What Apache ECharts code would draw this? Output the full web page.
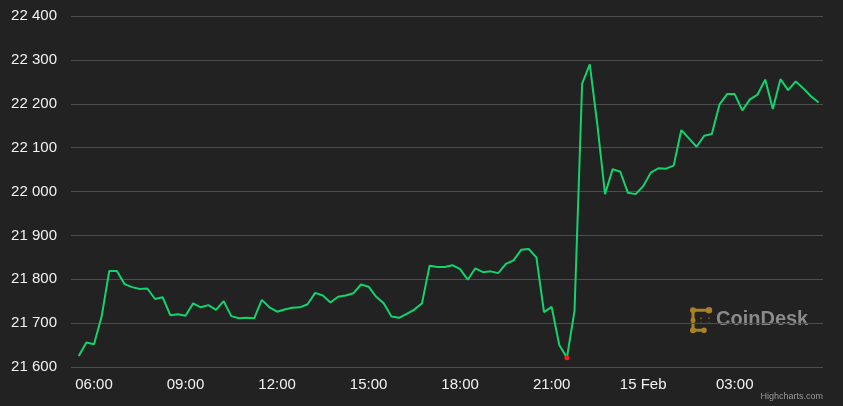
<!DOCTYPE html>
<html>
<head>
<meta charset="utf-8">
<script src="https://cdn.jsdelivr.net/npm/echarts@6/dist/echarts.min.js"></script>
<style>
html,body{margin:0;padding:0;background:#222222;}
#c{width:843px;height:406px;}
</style>
</head>
<body>
<div id="c"></div>
<script>
// BTC price, 15-minute steps, starting 05:30 (hours since 14 Feb 00:00)
const startHour = 5.5;
const stepHours = 0.25;
const prices = [
  21625, 21656, 21652, 21715, 21819, 21819, 21789, 21782, 21778, 21779,
  21755, 21759, 21718, 21720, 21717, 21745, 21736, 21741, 21730, 21750,
  21716, 21711, 21712, 21711, 21753, 21736, 21726, 21731, 21735, 21736,
  21743, 21769, 21763, 21747, 21760, 21763, 21768, 21788, 21783, 21760,
  21745, 21715, 21712, 21721, 21731, 21745, 21831, 21828, 21828, 21832,
  21823, 21799, 21825, 21816, 21818, 21814, 21835, 21843, 21867, 21869,
  21850, 21725, 21737, 21650, 21621, 21728, 22246, 22290, 22151, 21994,
  22051, 22045, 21997, 21994, 22012, 22043, 22053, 22052, 22059, 22140,
  22121, 22102, 22127, 22131, 22198, 22222, 22222, 22185, 22210, 22221,
  22255, 22188, 22256, 22231, 22251, 22235, 22217, 22203
];
const xTickHours = [6, 9, 12, 15, 18, 21, 24, 27];
const xTickLabels = ['06:00', '09:00', '12:00', '15:00', '18:00', '21:00', '15 Feb', '03:00'];
const yTicks = [21600, 21700, 21800, 21900, 22000, 22100, 22200, 22300, 22400];

const minPrice = Math.min(...prices);
const seriesData = prices.map((p, i) => {
  const item = { value: [startHour + i * stepHours, p] };
  if (p === minPrice) {
    item.symbol = 'circle';
    item.symbolSize = 5;
    item.itemStyle = { color: '#ff1a1a' };
  }
  return item;
});

const chart = echarts.init(document.getElementById('c'), null, { renderer: 'canvas' });
const font = 'Liberation Sans, Arial, Helvetica, sans-serif';
chart.setOption({
  backgroundColor: '#222222',
  animation: false,
  grid: { left: 71, right: 20, top: 16, bottom: 39, containLabel: false },
  xAxis: {
    type: 'value',
    min: 5.246,
    max: 29.894,
    axisLine: { show: false },
    axisTick: { show: false },
    splitLine: { show: false },
    axisLabel: {
      customValues: xTickHours,
      formatter: v => xTickLabels[xTickHours.indexOf(Math.round(v))] || '',
      color: '#f2f2f2',
      fontSize: 15,
      fontFamily: font,
      margin: 10
    }
  },
  yAxis: {
    type: 'value',
    min: yTicks[0],
    max: yTicks[yTicks.length - 1],
    interval: 100,
    axisLine: { show: false },
    axisTick: { show: false },
    splitLine: { lineStyle: { color: '#4d4d4d', width: 1 } },
    axisLabel: {
      formatter: v => String(v).replace(/\B(?=(\d{3})+(?!\d))/g, ' '),
      color: '#f2f2f2',
      fontSize: 15,
      fontFamily: font,
      margin: 14
    }
  },
  series: [{
    type: 'line',
    data: seriesData,
    showSymbol: true,
    symbol: 'none',
    lineStyle: { color: '#12d46c', width: 2 },
    itemStyle: { color: '#12d46c' },
    z: 3
  }],
  graphic: [
    {
      type: 'group', left: 690, top: 307, children: [
        { type: 'polyline', shape: { points: [[17, 3], [3, 3], [3, 23], [13, 23]] },
          style: { stroke: '#a88224', lineWidth: 3, fill: null } },
        { type: 'circle', shape: { cx: 3, cy: 3, r: 3 }, style: { fill: '#a88224' } },
        { type: 'circle', shape: { cx: 19, cy: 3, r: 3.2 }, style: { fill: '#a88224' } },
        { type: 'circle', shape: { cx: 3, cy: 23, r: 3 }, style: { fill: '#a88224' } },
        { type: 'circle', shape: { cx: 14, cy: 23, r: 2.8 }, style: { fill: '#a88224' } },
        { type: 'circle', shape: { cx: 3, cy: 13, r: 2.5 }, style: { fill: '#a88224' } },
        { type: 'circle', shape: { cx: 11, cy: 11, r: 1 }, style: { fill: '#6f5a25' } },
        { type: 'circle', shape: { cx: 11, cy: 16, r: 1 }, style: { fill: '#6f5a25' } },
        { type: 'circle', shape: { cx: 19, cy: 11, r: 1 }, style: { fill: '#6f5a25' } },
        { type: 'circle', shape: { cx: 19, cy: 16, r: 1 }, style: { fill: '#6f5a25' } }
      ]
    },
    {
      type: 'text', left: 716, top: 309,
      style: { text: 'CoinDesk', fill: '#8a8a8a', font: 'bold 20px ' + font }
    },
    {
      type: 'text', right: 20, top: 392,
      style: { text: 'Highcharts.com', fill: '#9a9a9a', font: '9px ' + font }
    }
  ]
});
</script>
</body>
</html>
